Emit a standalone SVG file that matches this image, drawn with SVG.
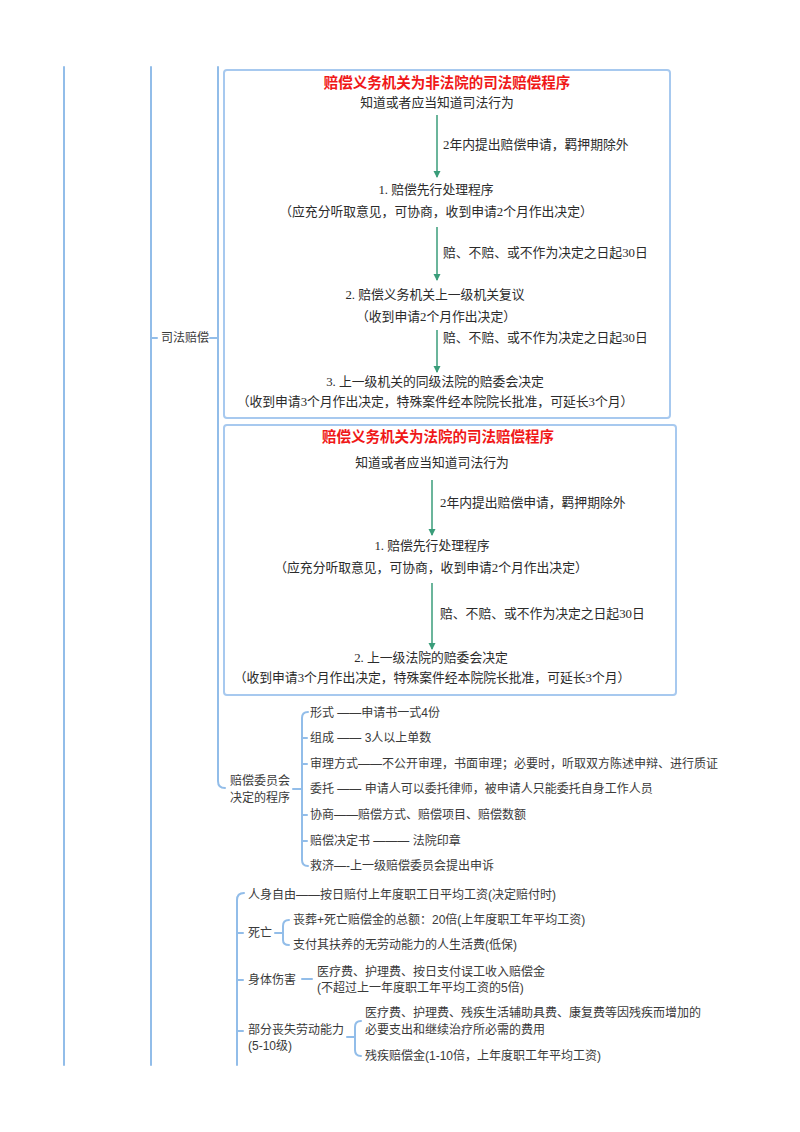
<svg xmlns="http://www.w3.org/2000/svg" width="800" height="1132" viewBox="0 0 800 1132">
<style>
.ln{fill:none;stroke:#92bde9;stroke-width:2;stroke-linecap:round}
.box{fill:#fff;stroke:#a7c9ef;stroke-width:2}
.t{font-family:"Liberation Serif","Noto Sans CJK SC",serif;font-size:12.8px;fill:#2b2b2b;dominant-baseline:central}
.m{font-family:"Liberation Sans","Noto Sans CJK SC",sans-serif;font-size:12px;fill:#3a3a3a;dominant-baseline:central}
.ttl{font-family:"Liberation Sans","Noto Sans CJK SC",sans-serif;font-size:14.5px;font-weight:bold;fill:#f01818;dominant-baseline:central;text-anchor:middle}
.c{text-anchor:middle}
.ar{stroke:#3a9d7a;stroke-width:1.5;fill:none}
</style>
<defs>
<marker id="ah" markerWidth="8" markerHeight="8" refX="6" refY="4" orient="auto" markerUnits="userSpaceOnUse">
<path d="M0,0.5 L7,4 L0,7.5 Z" fill="#3a9d7a"/>
</marker>
</defs>
<rect width="800" height="1132" fill="#fff"/>

<g id="connectors">
<line class="ln" x1="64" y1="67" x2="64" y2="1065"/>
<line class="ln" x1="151" y1="67" x2="151" y2="1065"/>
<path class="ln" d="M218 67 V781 Q218 788 225 788"/>
<line class="ln" x1="151" y1="338" x2="157" y2="338"/>
<line class="ln" x1="210" y1="338" x2="218" y2="338"/>
<line class="ln" x1="293" y1="789" x2="302" y2="789"/>
<path class="ln" d="M308 712 Q302 712 302 718 V860 Q302 866 308 866"/>
<line class="ln" x1="302" y1="738" x2="307" y2="738"/>
<line class="ln" x1="302" y1="764" x2="307" y2="764"/>
<line class="ln" x1="302" y1="815" x2="307" y2="815"/>
<line class="ln" x1="302" y1="841" x2="307" y2="841"/>
<path class="ln" d="M244 893 Q237 893 237 900 V1065"/>
<line class="ln" x1="237" y1="933" x2="243" y2="933"/>
<line class="ln" x1="237" y1="980" x2="243" y2="980"/>
<line class="ln" x1="237" y1="1031" x2="243" y2="1031"/>
<line class="ln" x1="275" y1="933" x2="283" y2="933"/>
<path class="ln" d="M289 920 Q283 920 283 926 V940 Q283 945 289 945"/>
<line class="ln" x1="302" y1="979" x2="312" y2="979"/>
<line class="ln" x1="347" y1="1037" x2="355" y2="1037"/>
<path class="ln" d="M361 1021 Q355 1021 355 1027 V1050 Q355 1056 361 1056"/>
</g>

<g id="box-nonCourt">
<rect class="box" x="224" y="70" width="446" height="348" rx="3"/>
<text class="ttl" x="447" y="83">赔偿义务机关为非法院的司法赔偿程序</text>
<text class="t c" x="437" y="103">知道或者应当知道司法行为</text>
<line class="ar" x1="437" y1="115" x2="437" y2="177" marker-end="url(#ah)"/>
<text class="t" x="443" y="145">2年内提出赔偿申请，羁押期除外</text>
<text class="t c" x="436" y="190">1. 赔偿先行处理程序</text>
<text class="t c" x="436" y="212">（应充分听取意见，可协商，收到申请2个月作出决定）</text>
<line class="ar" x1="437" y1="227" x2="437" y2="280" marker-end="url(#ah)"/>
<text class="t" x="443" y="253">赔、不赔、或不作为决定之日起30日</text>
<text class="t c" x="435" y="295">2. 赔偿义务机关上一级机关复议</text>
<text class="t c" x="436" y="317">（收到申请2个月作出决定）</text>
<line class="ar" x1="437" y1="330" x2="437" y2="372" marker-end="url(#ah)"/>
<text class="t" x="443" y="338">赔、不赔、或不作为决定之日起30日</text>
<text class="t c" x="435" y="382">3. 上一级机关的同级法院的赔委会决定</text>
<text class="t c" x="435" y="402">（收到申请3个月作出决定，特殊案件经本院院长批准，可延长3个月）</text>
</g>

<g id="box-court">
<rect class="box" x="224" y="425" width="452" height="270" rx="3"/>
<text class="ttl" x="438" y="437">赔偿义务机关为法院的司法赔偿程序</text>
<text class="t c" x="432" y="463">知道或者应当知道司法行为</text>
<line class="ar" x1="432" y1="480" x2="432" y2="535" marker-end="url(#ah)"/>
<text class="t" x="440" y="503">2年内提出赔偿申请，羁押期除外</text>
<text class="t c" x="432" y="546">1. 赔偿先行处理程序</text>
<text class="t c" x="431" y="568">（应充分听取意见，可协商，收到申请2个月作出决定）</text>
<line class="ar" x1="432" y1="583" x2="432" y2="649" marker-end="url(#ah)"/>
<text class="t" x="440" y="614">赔、不赔、或不作为决定之日起30日</text>
<text class="t c" x="431" y="658">2. 上一级法院的赔委会决定</text>
<text class="t c" x="432" y="678">（收到申请3个月作出决定，特殊案件经本院院长批准，可延长3个月）</text>
</g>

<g id="node-sifa">
<text class="m" x="161" y="338">司法赔偿</text>
</g>

<g id="node-committee">
<text class="m" x="230" y="781">赔偿委员会</text>
<text class="m" x="230" y="798">决定的程序</text>
</g>
<g id="committee-items">
<text class="m" x="310" y="713">形式 ——申请书一式4份</text>
<text class="m" x="310" y="738">组成 —— 3人以上单数</text>
<text class="m" x="310" y="764">审理方式——不公开审理，书面审理；必要时，听取双方陈述申辩、进行质证</text>
<text class="m" x="310" y="789">委托 —— 申请人可以委托律师，被申请人只能委托自身工作人员</text>
<text class="m" x="310" y="815">协商——赔偿方式、赔偿项目、赔偿数额</text>
<text class="m" x="310" y="841">赔偿决定书 ——— 法院印章</text>
<text class="m" x="310" y="866">救济—-上一级赔偿委员会提出申诉</text>
</g>

<g id="node-freedom">
<text class="m" x="248" y="895">人身自由——按日赔付上年度职工日平均工资(决定赔付时)</text>
</g>
<g id="node-death">
<text class="m" x="248" y="933">死亡</text>
<text class="m" x="293" y="920">丧葬+死亡赔偿金的总额：20倍(上年度职工年平均工资)</text>
<text class="m" x="293" y="945">支付其扶养的无劳动能力的人生活费(低保)</text>
</g>
<g id="node-injury">
<text class="m" x="248" y="980">身体伤害</text>
<text class="m" x="317" y="972">医疗费、护理费、按日支付误工收入赔偿金</text>
<text class="m" x="317" y="988">(不超过上一年度职工年平均工资的5倍)</text>
</g>
<g id="node-partial">
<text class="m" x="248" y="1030">部分丧失劳动能力</text>
<text class="m" x="248" y="1046">(5-10级)</text>
<text class="m" x="365" y="1013">医疗费、护理费、残疾生活辅助具费、康复费等因残疾而增加的</text>
<text class="m" x="365" y="1030">必要支出和继续治疗所必需的费用</text>
<text class="m" x="365" y="1056">残疾赔偿金(1-10倍，上年度职工年平均工资)</text>
</g>
</svg>
